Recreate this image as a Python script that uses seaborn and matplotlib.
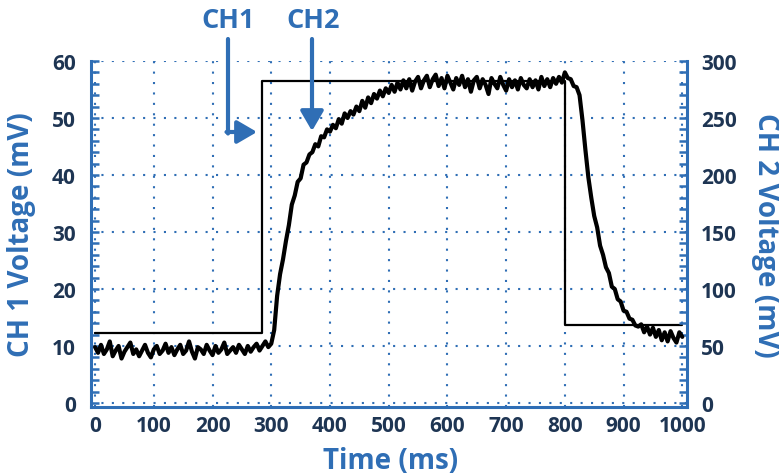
import numpy as np
import pandas as pd
import matplotlib.pyplot as plt
from matplotlib.ticker import MultipleLocator
import seaborn as sns

blue = '#2F6EB5'
navy = '#1E3553'

# CH1: square pulse (left axis, mV)
ch1_t = [0, 285, 800, 1000]
ch1_v = [12.3, 56.5, 13.7, 13.7]

# CH2: response trace (right axis, mV), sampled every 5 ms
ch2_t = np.arange(0, 1001, 5)
ch2_v = [49, 44, 51, 43, 47, 54, 41, 46, 50, 39,        # 0
         45, 49, 53, 43, 47, 41, 46, 51, 44, 40,        # 50
         47, 50, 43, 46, 52, 44, 49, 42, 47, 51,        # 100
         43, 46, 54, 45, 39, 49, 47, 43, 51, 46,        # 150
         42, 50, 44, 47, 53, 43, 46, 49, 44, 51,        # 200
         47, 43, 50, 45, 49, 52, 46, 50, 54, 49,        # 250
         52, 64, 94, 113, 126, 142, 156, 174, 182, 194,  # 300
         197, 209, 211, 218, 220, 227, 225, 234, 233, 240,  # 350
         238, 244, 241, 249, 245, 254, 250, 256, 253, 260,  # 400
         256, 265, 259, 268, 263, 271, 267, 274, 269, 276,  # 450
         272, 279, 273, 281, 275, 283, 276, 284, 274, 282,  # 500
         286, 276, 283, 287, 277, 284, 288, 278, 285, 276,  # 550
         287, 281, 275, 285, 279, 287, 277, 284, 273, 283,  # 600
         286, 276, 284, 279, 271, 285, 280, 276, 286, 279,  # 650
         274, 284, 277, 283, 275, 285, 279, 276, 284, 277,  # 700
         283, 275, 286, 278, 284, 277, 285, 280, 286, 281,  # 750
         290, 285, 284, 278, 277, 270, 248, 222, 198, 180,  # 800
         164, 154, 138, 130, 119, 114, 102, 100, 91, 89,    # 850
         81, 80, 74, 73, 68, 67, 69, 62, 67, 60,            # 900
         66, 58, 64, 55, 62, 54, 63, 57, 53, 62,            # 950
         58]                                                 # 1000

sns.set_style('white')
plt.rcParams['font.family'] = ['Open Sans', 'DejaVu Sans']
plt.rcParams['font.weight'] = 'bold'

fig = plt.figure(figsize=(7.79, 4.77), dpi=100)
ax = fig.add_axes([0.1168, 0.1447, 0.7651, 0.7254])
ax2 = ax.twinx()

sns.lineplot(x=ch1_t, y=ch1_v, ax=ax, color='black', lw=1.6, drawstyle='steps-post')
sns.lineplot(x=ch2_t, y=ch2_v, ax=ax2, color='black', lw=3.0)

ax.set_xlim(-7, 1008)
ax.set_ylim(-0.7, 60)
ax2.set_ylim(-3.5, 300)

ax.xaxis.set_major_locator(MultipleLocator(100)); ax.xaxis.set_minor_locator(MultipleLocator(20))
ax.yaxis.set_major_locator(MultipleLocator(10)); ax.yaxis.set_minor_locator(MultipleLocator(2))
ax2.yaxis.set_major_locator(MultipleLocator(50)); ax2.yaxis.set_minor_locator(MultipleLocator(10))

ax.set_axisbelow(True)
ax.grid(True, which='major', color=blue, ls=(0, (1, 4)), lw=1.5)

for s in ['top', 'right']:
    ax.spines[s].set_visible(False)
for s in ['left', 'bottom']:
    ax.spines[s].set_color(blue); ax.spines[s].set_linewidth(2.2)
for s in ['top', 'left', 'bottom']:
    ax2.spines[s].set_visible(False)
ax2.spines['right'].set_color(blue); ax2.spines['right'].set_linewidth(2.2)

ax.tick_params(which='both', direction='in', length=5.5, width=1.8, color=blue, labelcolor=navy, labelsize=15)
ax.tick_params(axis='y', which='both', pad=11)
ax.tick_params(axis='x', which='both', pad=6)
ax2.tick_params(axis='y', which='both', direction='in', length=5.5, width=1.8, color=blue,
                labelcolor=navy, labelsize=15, pad=10)
for lbl in ax.get_xticklabels() + ax.get_yticklabels() + ax2.get_yticklabels():
    lbl.set_fontweight('bold')

ax.set_xlabel('Time (ms)', color=blue, fontsize=20, fontweight='bold')
ax.set_ylabel('CH 1 Voltage (mV)', color=blue, fontsize=20, fontweight='bold')
ax2.set_ylabel('CH 2 Voltage (mV)', color=blue, fontsize=20, fontweight='bold', rotation=-90)
ax.xaxis.set_label_coords(0.503, -0.156); ax.xaxis.label.set_va('center')
ax.yaxis.set_label_coords(-0.1166, 0.5); ax.yaxis.label.set_va('center')
ax2.yaxis.set_label_coords(1.131, 0.5); ax2.yaxis.label.set_va('center')

# CH1 / CH2 callouts
fig.text(228.5/779, 1 - 21/477, 'CH1', ha='center', va='center', color=blue, fontsize=19.5, weight='bold')
fig.text(313.5/779, 1 - 21/477, 'CH2', ha='center', va='center', color=blue, fontsize=19.5, weight='bold')
ax.annotate('', xy=(228, 477 - 134.5), xytext=(228, 477 - 40), xycoords='figure pixels',
            arrowprops=dict(arrowstyle='-', lw=3, color=blue, shrinkA=0, shrinkB=0))
ax.annotate('', xy=(257, 477 - 133), xytext=(226.5, 477 - 133), xycoords='figure pixels',
            arrowprops=dict(arrowstyle='-|>,head_length=0.6,head_width=0.35', lw=3, color=blue,
                            shrinkA=0, shrinkB=0, mutation_scale=20))
ax.annotate('', xy=(312, 477 - 132), xytext=(312, 477 - 40), xycoords='figure pixels',
            arrowprops=dict(arrowstyle='-|>,head_length=0.6,head_width=0.35', lw=3, color=blue,
                            shrinkA=0, shrinkB=0, mutation_scale=20))

fig.savefig('out.png', dpi=100)
